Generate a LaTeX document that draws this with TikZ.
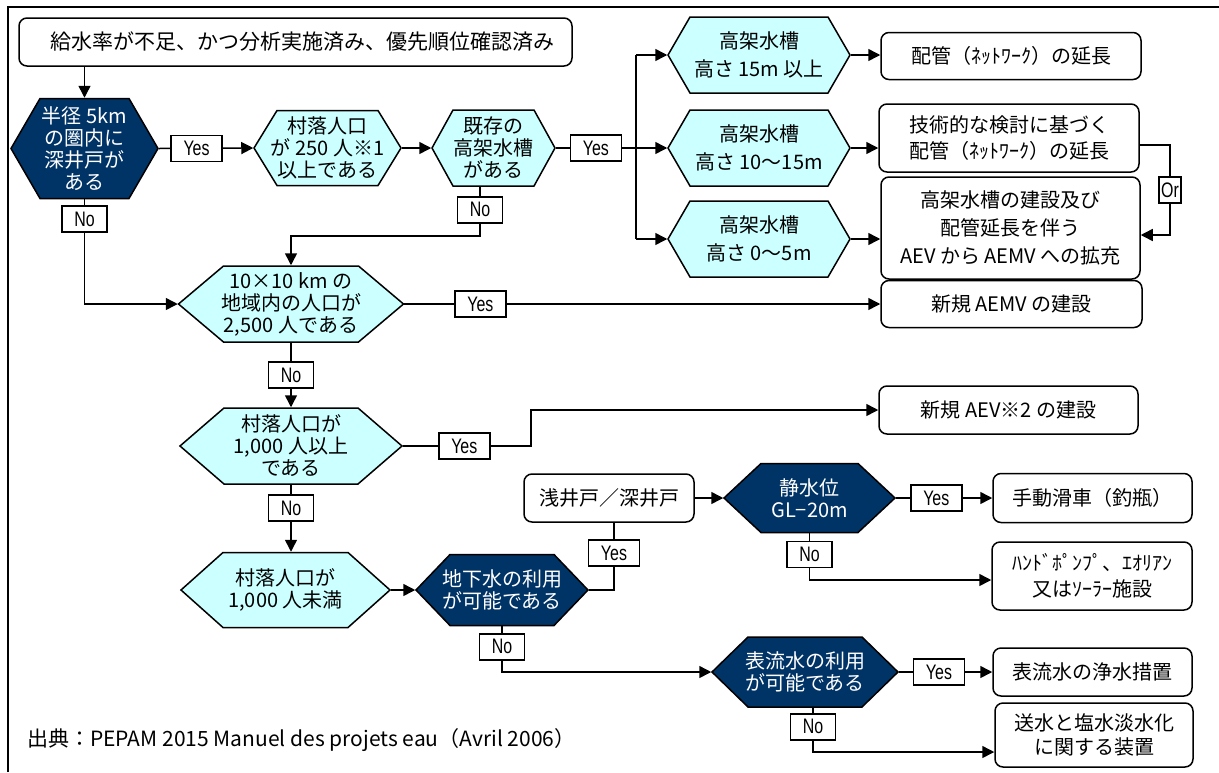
\documentclass[tikz,border=0pt]{standalone}
\usepackage{fontspec}
\usepackage{graphicx}
\setmainfont{Noto Sans CJK JP}
\newfontfamily\labfam{Liberation Sans}
\usetikzlibrary{arrows.meta}
\definecolor{navy}{RGB}{0,51,102}
\definecolor{hexcyan}{RGB}{204,255,255}
% #1 name, #2 cx, #3 cy, #4 half width, #5 half height, #6 inset, #7 style, #8 text
\newcommand{\hexshape}[8]{%
  \filldraw[#7] ({#2-#4},{#3}) -- ({#2-#4+#6},{#3-#5}) -- ({#2+#4-#6},{#3-#5}) -- ({#2+#4},{#3}) -- ({#2+#4-#6},{#3+#5}) -- ({#2-#4+#6},{#3+#5}) -- cycle;
  \node[hextext, #7, draw=none, fill=none, minimum width={2*(#4)}, minimum height={2*(#5)}] (#1) at (#2,#3) {#8};
}
\newcommand{\yn}[1]{\scalebox{0.76}[1]{#1}}
\begin{document}
\begin{tikzpicture}[x=1pt,y=-1pt,
  hexlight/.style={draw=black, line width=1.5pt, fill=hexcyan, text=black},
  hexdark/.style={draw=black, line width=1.5pt, fill=navy, text=white},
  hextext/.style={inner sep=0pt, align=center, font=\fontsize{20}{22}\selectfont},
  conn/.style={line width=1.5pt},
  arr/.style={line width=1.5pt, -{Triangle[length=12pt,width=12pt]}},
  lab/.style={draw=black, line width=1.5pt, fill=white, inner sep=0pt, minimum height=26, minimum width=45, font=\labfam\fontsize{21}{21}\selectfont},
  laby/.style={lab, minimum width=51},
  rbox/.style={draw=black, line width=1.5pt, rounded corners=8pt, fill=white, align=center, inner sep=0pt, font=\fontsize{20}{26}\selectfont},
]
\useasboundingbox (0,0) rectangle (1219,772);
\fill[white] (0,0) rectangle (1219,772);
\draw[line width=2.5pt] (8,772) -- (8,7) -- (1219,7);

% start box
\node[rbox, minimum width=553, minimum height=48, font=\fontsize{21}{26}\selectfont] (top) at (295.5,42) {\hspace{14pt}給水率が不足、かつ分析実施済み、優先順位確認済み};

% hexagons
\hexshape{h1}{84.5}{148.5}{73.5}{50}{29}{hexdark}{半径 5km\\の圏内に\\深井戸が\\ある}
\hexshape{h2}{327.5}{148}{73.5}{37.5}{23}{hexlight}{村落人口\\が 250 人※1\\以上である}
\hexshape{h3}{493.5}{148}{61.5}{38}{21}{hexlight}{既存の\\高架水槽\\がある}
\hexshape{t1}{759}{55}{91}{38}{22}{hexlight}{高架水槽\\[6pt]高さ 15m 以上}
\hexshape{t2}{759}{148}{91}{38}{22}{hexlight}{高架水槽\\[6pt]高さ 10〜15m}
\hexshape{t3}{759}{239}{91}{38}{22}{hexlight}{高架水槽\\[6pt]高さ 0〜5m}
\hexshape{h4}{291}{304}{112.5}{38}{45}{hexlight}{10×10 km の\\地域内の人口が\\2,500 人である}
\hexshape{h5}{291}{446}{111}{38}{44}{hexlight}{村落人口が\\1,000 人以上\\である}
\hexshape{h6}{285.5}{590}{104.5}{37.5}{42}{hexlight}{村落人口が\\1,000 人未満}
\hexshape{h7}{502}{590}{86}{35.5}{34}{hexdark}{地下水の利用\\が可能である}
\hexshape{h8}{809.5}{498}{85.5}{34.5}{37}{hexdark}{静水位\\GL−20m}
\hexshape{h9}{805}{672}{93}{35}{36}{hexdark}{表流水の利用\\が可能である}

% result boxes
\node[rbox, minimum width=260, minimum height=47] (r1) at (1011,56) {配管（ﾈｯﾄﾜｰｸ）の延長};
\node[rbox, minimum width=260, minimum height=68] (r2) at (1009,138) {技術的な検討に基づく\\配管（ﾈｯﾄﾜｰｸ）の延長};
\node[rbox, minimum width=259, minimum height=102, font=\fontsize{20}{28}\selectfont] (r3) at (1010.5,228) {高架水槽の建設及び\\配管延長を伴う\\AEV から AEMV への拡充};
\node[rbox, minimum width=261, minimum height=47] (aemv) at (1011.5,304) {新規 AEMV の建設};
\node[rbox, minimum width=259, minimum height=48] (aev) at (1008.5,410) {新規 AEV※2 の建設};
\node[rbox, minimum width=170, minimum height=48] (shallow) at (609,498) {浅井戸／深井戸};
\node[rbox, minimum width=199, minimum height=49] (pulley) at (1092.5,498) {手動滑車（釣瓶）};
\node[rbox, minimum width=200, minimum height=68] (hp) at (1092,576) {ﾊﾝﾄﾞﾎﾟﾝﾌﾟ、ｴｵﾘｱﾝ\\又はｿｰﾗｰ施設};
\node[rbox, minimum width=199, minimum height=48] (surf) at (1092.5,672) {表流水の浄水措置};
\node[rbox, minimum width=198, minimum height=64, font=\fontsize{20}{24}\selectfont] (desal) at (1094,735) {送水と塩水淡水化\\に関する装置};

% connectors
\draw[arr] (h1.north |- top.south) -- (h1.north);
\draw[arr] (h1.east) -- node[laby,pos=0.4]{\yn{Yes}} (h2.west);
\draw[arr] (h2.east) -- (h3.west);
\coordinate (brA) at (636,55);
\coordinate (brB) at (636,148);
\coordinate (brC) at (636,239);
\draw[conn] (h3.east) -- node[laby,pos=0.5]{\yn{Yes}} (brB);
\draw[conn] (brA) -- (brC);
\draw[arr] (brA) -- (t1.west);
\draw[arr] (brB) -- (t2.west);
\draw[arr] (brC) -- (t3.west);
\draw[arr] (t1.east) -- (t1.east -| r1.west);
\draw[arr] (t2.east) -- (t2.east -| r2.west);
\draw[arr] (t3.east) -- (t3.east -| r3.west);
\coordinate (orA) at (1170,145);
\coordinate (orB) at (1170,235);
\draw[arr] (r2.east |- orA) -- (orA) -- node[lab, minimum width=22]{\yn{Or}} (orB) -- (orB -| r3.east);

\draw[arr] (h1.south) -- node[lab,pos=0.19]{\yn{No}} (h1.south |- h4.west) -- (h4.west);
\draw[arr] ([xshift=-13.5]h3.south) -- node[lab,pos=0.47]{\yn{No}} ++(0,49) -| (h4.north);
\draw[arr] (h4.east) -- node[laby,pos=0.16]{\yn{Yes}} (h4.east -| aemv.west);
\draw[arr] (h4.south) -- node[lab]{\yn{No}} (h5.north);
\coordinate (k5) at (531,446);
\draw[arr] (h5.east) -- node[laby,pos=0.48]{\yn{Yes}} (k5) |- (aev.west);
\draw[arr] (h5.south) -- node[lab,pos=0.35]{\yn{No}} (h5.south |- h6.north);
\draw[arr] (h6.east) -- (h7.west);
\coordinate (k7) at (614,590);
\draw[conn] (h7.east) -- (k7) -- node[laby,pos=0.55]{\yn{Yes}} (k7 |- shallow.south);
\draw[arr] (shallow.east) -- (h8.west);
\draw[arr] (h8.east) -- node[laby,pos=0.42]{\yn{Yes}} (pulley.west);
\coordinate (k8) at (810,580);
\draw[arr] (h8.south) -- node[lab,pos=0.45]{\yn{No}} (h8.south |- k8) -- (k8 -| hp.west);
\coordinate (k7b) at (502,672);
\draw[arr] (h7.south) -- node[lab,pos=0.45]{\yn{No}} (k7b) -- (h9.west);
\draw[arr] (h9.east) -- node[laby,pos=0.43]{\yn{Yes}} (surf.west);
\coordinate (k9) at (813,752);
\draw[arr] ([xshift=8]h9.south) -- node[lab,pos=0.43]{\yn{No}} (k9) -- (k9 -| desal.west);

% source
\node[anchor=west, inner sep=0pt, font=\fontsize{21}{24}\selectfont] (src) at (27,740) {出典：PEPAM 2015 Manuel des projets eau（Avril 2006）};
\end{tikzpicture}
\end{document}
